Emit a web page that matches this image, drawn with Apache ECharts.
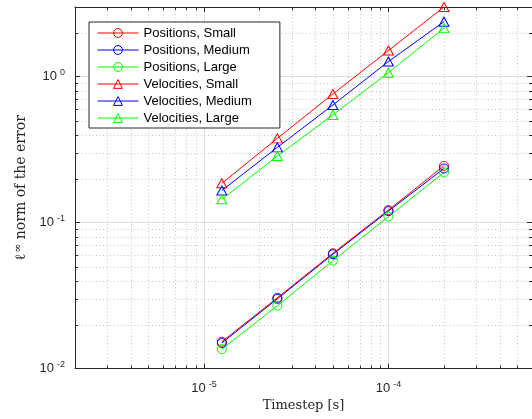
<!DOCTYPE html>
<html>
<head>
<meta charset="utf-8">
<script src="https://cdn.jsdelivr.net/npm/echarts@6/dist/echarts.min.js"></script>
<style>
  html, body { margin: 0; padding: 0; background: #fff; }
  #chart { width: 532px; height: 419px; }
</style>
</head>
<body>
<div id="chart"></div>
<script>
// Timesteps [s]
const timesteps = [1.25e-5, 2.5e-5, 5e-5, 1e-4, 2e-4];

// Max-norm error for each configuration
const positionsSmall  = [0.0153, 0.0306, 0.0617, 0.122, 0.245];
const positionsMedium = [0.0150, 0.0301, 0.0608, 0.120, 0.235];
const positionsLarge  = [0.0136, 0.0270, 0.0549, 0.110, 0.221];
const velocitiesSmall  = [0.186, 0.378, 0.761, 1.51, 3.0];
const velocitiesMedium = [0.166, 0.328, 0.640, 1.27, 2.38];
const velocitiesLarge  = [0.1445, 0.286, 0.547, 1.065, 2.15];

const seriesNames = [
  'Positions, Small', 'Positions, Medium', 'Positions, Large',
  'Velocities, Small', 'Velocities, Medium', 'Velocities, Large'
];
const seriesValues = [
  positionsSmall, positionsMedium, positionsLarge,
  velocitiesSmall, velocitiesMedium, velocitiesLarge
];
const seriesColors = ['#ff0000', '#0000ff', '#00ff00', '#ff0000', '#0000ff', '#00ff00'];

// Axis ranges
const xRange = [2e-6, 6e-4];
const yRange = [0.01, 3];

// Minor (2..9 x 10^n) positions for the dotted grid and small ticks
function minorValues(range, decades) {
  const out = [];
  decades.forEach(d => {
    for (let k = 2; k <= 9; k++) {
      const v = k * Math.pow(10, d);
      if (v > range[0] * 1.0001 && v < range[1] * 0.9999) out.push(v);
    }
  });
  return out;
}
const minorX = minorValues(xRange, [-6, -5, -4]);
const minorY = minorValues(yRange, [-2, -1, 0]);

const frameColor = '#262626';
const textColor = '#262626';

function powLabel(v) {
  const e = Math.log10(v);
  const r = Math.round(e);
  if (Math.abs(e - r) > 1e-6) return '';
  return '{b|10}{s|' + r + '}';
}
const labelRich = {
  b: { fontSize: 13, fontFamily: 'Liberation Sans', color: textColor },
  s: { fontSize: 9, fontFamily: 'Liberation Sans', color: textColor, padding: [0, 0, 8, 3] }
};

function baseAxis(extra) {
  return Object.assign({
    type: 'log',
    logBase: 10,
    axisLine: { show: true, onZero: false, lineStyle: { color: frameColor, width: 1 } },
    axisTick: { show: true, inside: true, length: 5, lineStyle: { color: frameColor, width: 1 } },
    splitLine: { show: false },
    axisLabel: { show: false }
  }, extra);
}

const chart = echarts.init(document.getElementById('chart'), null, { renderer: 'canvas' });

const lineSeries = seriesNames.map((name, i) => ({
  name: name,
  type: 'line',
  xAxisIndex: 0,
  yAxisIndex: 0,
  data: timesteps.map((t, j) => [t, seriesValues[i][j]]),
  symbol: i < 3 ? 'circle' : 'triangle',
  symbolSize: i < 3 ? 9 : [10, 9],
  showSymbol: true,
  color: seriesColors[i],
  lineStyle: { color: seriesColors[i], width: 1 },
  itemStyle: { color: 'rgba(0,0,0,0)', borderColor: seriesColors[i], borderWidth: 1 },
  emphasis: { disabled: true },
  animation: false,
  z: 5
}));

// Dotted minor grid plus minor ticks on all four sides of the box
const minorSeries = {
  type: 'custom',
  xAxisIndex: 0,
  yAxisIndex: 0,
  data: [[1e-5, 0.1]],
  silent: true,
  animation: false,
  z: 1,
  renderItem: function (params, api) {
    const cs = params.coordSys;
    const x0 = cs.x, x1 = cs.x + cs.width, y0 = cs.y, y1 = cs.y + cs.height;
    const children = [];
    const dotted = { stroke: '#c4c4c4', lineWidth: 1, lineDash: [1, 2.5] };
    const tick = { stroke: frameColor, lineWidth: 1 };
    const tl = 3;
    minorX.forEach(v => {
      const px = Math.round(api.coord([v, yRange[0]])[0]) + 0.5;
      children.push({ type: 'line', shape: { x1: px, y1: y0, x2: px, y2: y1 }, style: dotted });
      children.push({ type: 'line', shape: { x1: px, y1: y1, x2: px, y2: y1 - tl }, style: tick });
      children.push({ type: 'line', shape: { x1: px, y1: y0, x2: px, y2: y0 + tl }, style: tick });
    });
    minorY.forEach(v => {
      const py = Math.round(api.coord([xRange[0], v])[1]) + 0.5;
      children.push({ type: 'line', shape: { x1: x0, y1: py, x2: x1, y2: py }, style: dotted });
      children.push({ type: 'line', shape: { x1: x0, y1: py, x2: x0 + tl, y2: py }, style: tick });
      children.push({ type: 'line', shape: { x1: x1, y1: py, x2: x1 - tl, y2: py }, style: tick });
    });
    return { type: 'group', children: children };
  }
};

chart.setOption({
  backgroundColor: '#ffffff',
  animation: false,
  grid: { left: 75, top: 7, width: 458.3, height: 361.7, containLabel: false },
  legend: {
    orient: 'vertical',
    left: 89,
    top: 22,
    data: seriesNames,
    itemWidth: 41,
    itemHeight: 11,
    itemGap: 3,
    padding: [4, 28, 3, 8],
    backgroundColor: '#ffffff',
    borderColor: frameColor,
    borderWidth: 1,
    borderRadius: 0,
    selectedMode: false,
    lineStyle: { width: 1 },
    itemStyle: { borderWidth: 1 },
    textStyle: { fontSize: 13, fontFamily: 'Liberation Sans', color: '#000000', lineHeight: 14 }
  },
  xAxis: [
    baseAxis({
      position: 'bottom',
      min: xRange[0],
      max: xRange[1],
      splitLine: { show: true, lineStyle: { color: '#dedede', width: 1 } },
      axisLabel: {
        show: true, margin: 11, formatter: powLabel, rich: labelRich,
        showMinLabel: false, showMaxLabel: false
      },
      name: 'Timestep [s]',
      nameLocation: 'middle',
      nameGap: 30,
      nameTextStyle: { fontFamily: 'DejaVu Serif', fontSize: 13, color: textColor }
    }),
    baseAxis({ position: 'top', min: xRange[0], max: xRange[1] })
  ],
  yAxis: [
    baseAxis({
      position: 'left',
      min: yRange[0],
      max: yRange[1],
      splitLine: { show: true, lineStyle: { color: '#dedede', width: 1 } },
      axisLabel: {
        show: true, margin: 10, formatter: powLabel, rich: labelRich,
        showMaxLabel: false
      },
      name: '{l|ℓ}{i|∞}{t| norm of the error}',
      nameLocation: 'middle',
      nameGap: 45,
      nameRotate: 90,
      nameTextStyle: {
        rich: {
          l: { fontFamily: 'DejaVu Serif', fontSize: 14, color: textColor },
          i: { fontFamily: 'DejaVu Serif', fontSize: 11, color: textColor, padding: [0, 0, 6, 1] },
          t: { fontFamily: 'DejaVu Serif', fontSize: 14, color: textColor }
        }
      }
    }),
    baseAxis({ position: 'right', min: yRange[0], max: yRange[1] })
  ],
  series: [minorSeries].concat(lineSeries)
});
</script>
</body>
</html>
